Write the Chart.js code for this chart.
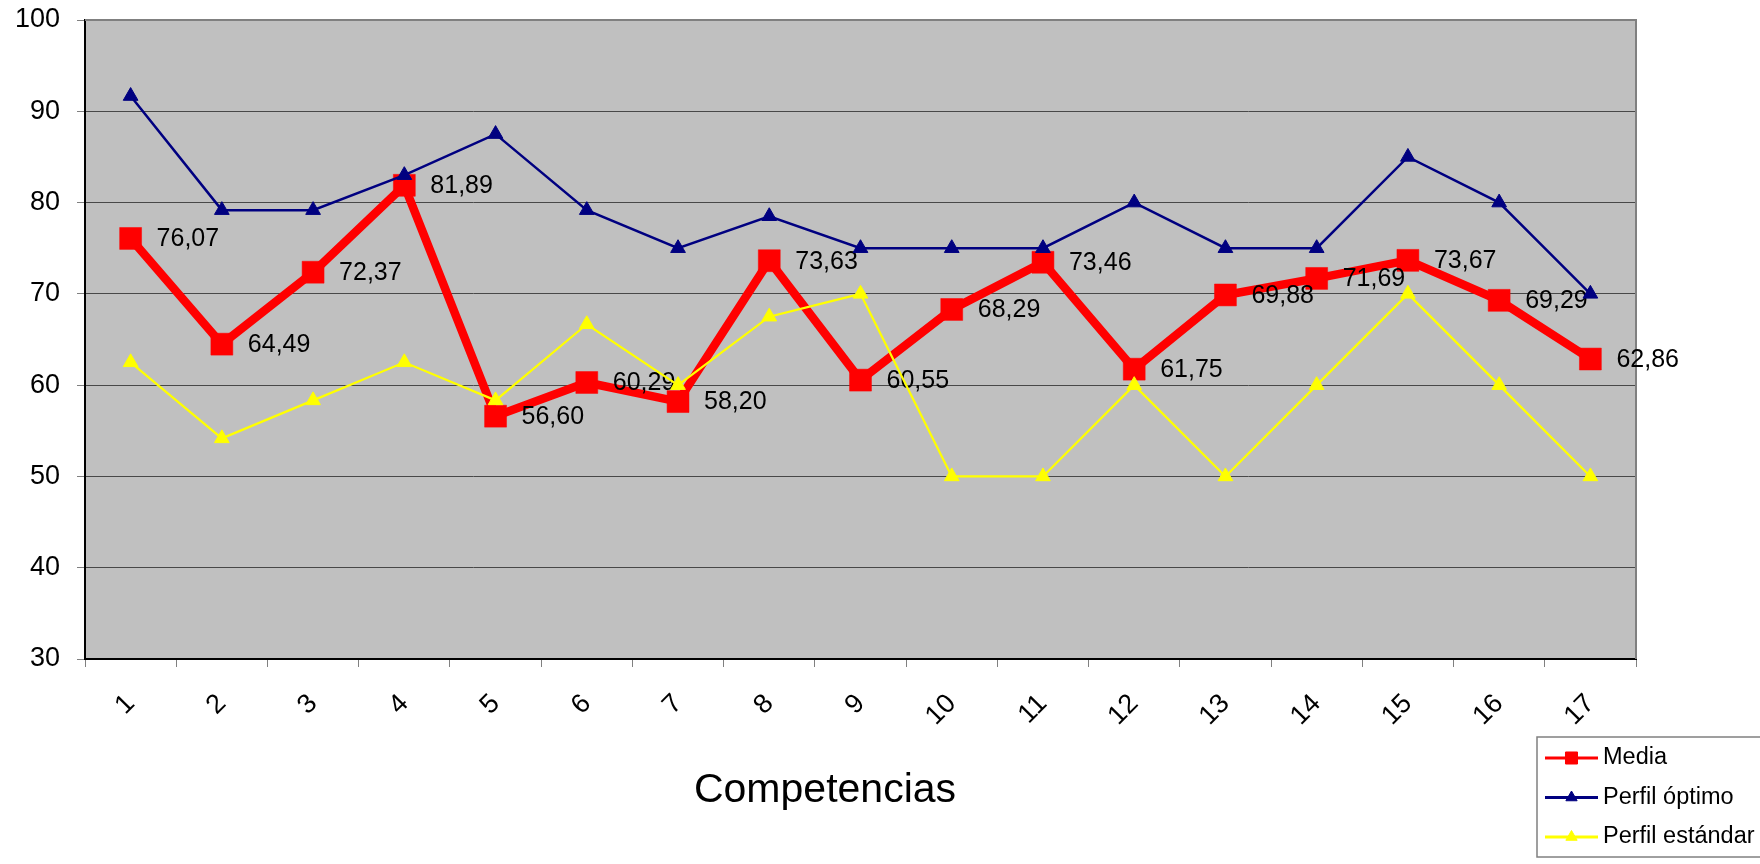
<!DOCTYPE html>
<html>
<head>
<meta charset="utf-8">
<title>Competencias</title>
<script src="https://cdn.jsdelivr.net/npm/chart.js@4.4.1/dist/chart.umd.min.js"></script>
<style>
  html, body { margin: 0; padding: 0; background: #fff; }
  canvas { display: block; }
</style>
</head>
<body>
<canvas id="chart" width="1760" height="864"></canvas>
<script>
const competencias = ['1', '2', '3', '4', '5', '6', '7', '8', '9', '10', '11', '12', '13', '14', '15', '16', '17'];
const media = [76.07, 64.49, 72.37, 81.89, 56.60, 60.29, 58.20, 73.63, 60.55, 68.29, 73.46, 61.75, 69.88, 71.69, 73.67, 69.29, 62.86];
const perfilOptimo = [91.67, 79.17, 79.17, 83, 87.5, 79.17, 75, 78.5, 75, 75, 75, 80, 75, 75, 85, 80, 70];
const perfilEstandar = [62.5, 54.17, 58.33, 62.5, 58.33, 66.67, 60, 67.5, 70, 50, 50, 60, 50, 60, 70, 60, 50];
const seriesNames = ['Media', 'Perfil óptimo', 'Perfil estándar'];
const yMin = 30;
const yMax = 100;
const yStep = 10;
const axisTitle = 'Competencias';

const FONT = 'Arial, "Liberation Sans", sans-serif';

// grey plot area with its border, like the spreadsheet chart
const plotArea = {
    id: 'plotArea',
    beforeDraw(chart) {
        const {ctx, chartArea: a} = chart;
        ctx.save();
        ctx.fillStyle = '#c0c0c0';
        ctx.fillRect(a.left, a.top, a.right - a.left, a.bottom - a.top);
        ctx.restore();
    },
    beforeDatasetsDraw(chart) {
        const {ctx, chartArea: a} = chart;
        ctx.save();
        ctx.strokeStyle = '#808080';
        ctx.lineWidth = 2;
        ctx.beginPath();
        ctx.moveTo(a.left, a.top);
        ctx.lineTo(a.right, a.top);
        ctx.lineTo(a.right, a.bottom);
        ctx.stroke();
        ctx.restore();
    }
};

// value labels to the right of each "Media" point
const valueLabels = {
    id: 'valueLabels',
    afterDatasetDraw(chart, args) {
        if (args.index !== 0) return;
        const {ctx} = chart;
        const values = chart.data.datasets[0].data;
        ctx.save();
        ctx.font = '25px ' + FONT;
        ctx.fillStyle = '#000';
        ctx.textAlign = 'left';
        ctx.textBaseline = 'middle';
        args.meta.data.forEach((pt, i) => {
            ctx.fillText(values[i].toFixed(2).replace('.', ','), pt.x + 26, pt.y + 1);
        });
        ctx.restore();
    }
};

// axis title and boxed legend in the bottom right corner
const extras = {
    id: 'extras',
    afterDraw(chart) {
        const {ctx} = chart;
        ctx.save();
        ctx.fillStyle = '#000';
        ctx.font = '41px ' + FONT;
        ctx.textAlign = 'center';
        ctx.textBaseline = 'alphabetic';
        ctx.fillText(axisTitle, 825, 802);

        const box = {x: 1537, y: 737, w: 240, h: 120};
        ctx.fillStyle = '#fff';
        ctx.fillRect(box.x, box.y, box.w, box.h);
        ctx.strokeStyle = '#808080';
        ctx.lineWidth = 1.5;
        ctx.strokeRect(box.x, box.y, box.w, box.h);

        chart.data.datasets.forEach((ds, i) => {
            const y = box.y + 21 + i * 39.5;
            ctx.strokeStyle = ds.borderColor;
            ctx.fillStyle = ds.backgroundColor;
            ctx.lineWidth = 3;
            ctx.beginPath();
            ctx.moveTo(box.x + 8, y);
            ctx.lineTo(box.x + 61, y);
            ctx.stroke();
            ctx.lineWidth = 1;
            Chart.helpers.drawPoint(ctx, {
                pointStyle: ds.pointStyle,
                rotation: 0,
                radius: ds.pointStyle === 'rect' ? 8.5 : 6.5,
                borderWidth: 1
            }, box.x + 34.5, y);
            ctx.fillStyle = '#000';
            ctx.font = '23.5px ' + FONT;
            ctx.textAlign = 'left';
            ctx.textBaseline = 'middle';
            ctx.fillText(ds.label, box.x + 66, y);
        });
        ctx.restore();
    }
};

new Chart(document.getElementById('chart'), {
    type: 'line',
    data: {
        labels: competencias,
        datasets: [{
            label: seriesNames[0],
            data: media,
            borderColor: '#ff0000',
            backgroundColor: '#ff0000',
            borderWidth: 8.5,
            pointStyle: 'rect',
            pointRadius: 15.5,
            pointBorderWidth: 0.5,
            order: 3
        }, {
            label: seriesNames[1],
            data: perfilOptimo,
            borderColor: '#000080',
            backgroundColor: '#000080',
            borderWidth: 2.5,
            pointStyle: 'triangle',
            pointRadius: 8.5,
            pointBorderWidth: 1,
            order: 2
        }, {
            label: seriesNames[2],
            data: perfilEstandar,
            borderColor: '#ffff00',
            backgroundColor: '#ffff00',
            borderWidth: 2.2,
            pointStyle: 'triangle',
            pointRadius: 8.5,
            pointBorderWidth: 1,
            order: 1
        }]
    },
    options: {
        responsive: false,
        animation: false,
        devicePixelRatio: 1,
        layout: {padding: {top: 20, right: 124, bottom: 0, left: 0}},
        elements: {line: {tension: 0}},
        plugins: {
            legend: {display: false},
            tooltip: {enabled: false}
        },
        scales: {
            x: {
                offset: true,
                grid: {
                    offset: true,
                    drawOnChartArea: false,
                    tickLength: 8,
                    tickColor: '#808080'
                },
                border: {color: '#000', width: 2},
                ticks: {
                    minRotation: 45,
                    maxRotation: 45,
                    padding: 21,
                    color: '#000',
                    font: {family: FONT, size: 27}
                },
                afterFit(scale) {
                    scale.height = 205;
                    scale.paddingLeft = 0;
                    scale.paddingRight = 0;
                }
            },
            y: {
                min: yMin,
                max: yMax,
                grid: {
                    color: '#484848',
                    lineWidth: 1,
                    tickLength: 8,
                    tickColor: '#808080'
                },
                border: {color: '#000', width: 2},
                ticks: {
                    stepSize: yStep,
                    padding: 17,
                    color: '#000',
                    font: {family: FONT, size: 27}
                },
                afterFit(scale) {
                    scale.width = 85;
                    scale.paddingTop = 0;
                    scale.paddingBottom = 0;
                }
            }
        }
    },
    plugins: [plotArea, valueLabels, extras]
});
</script>
</body>
</html>
